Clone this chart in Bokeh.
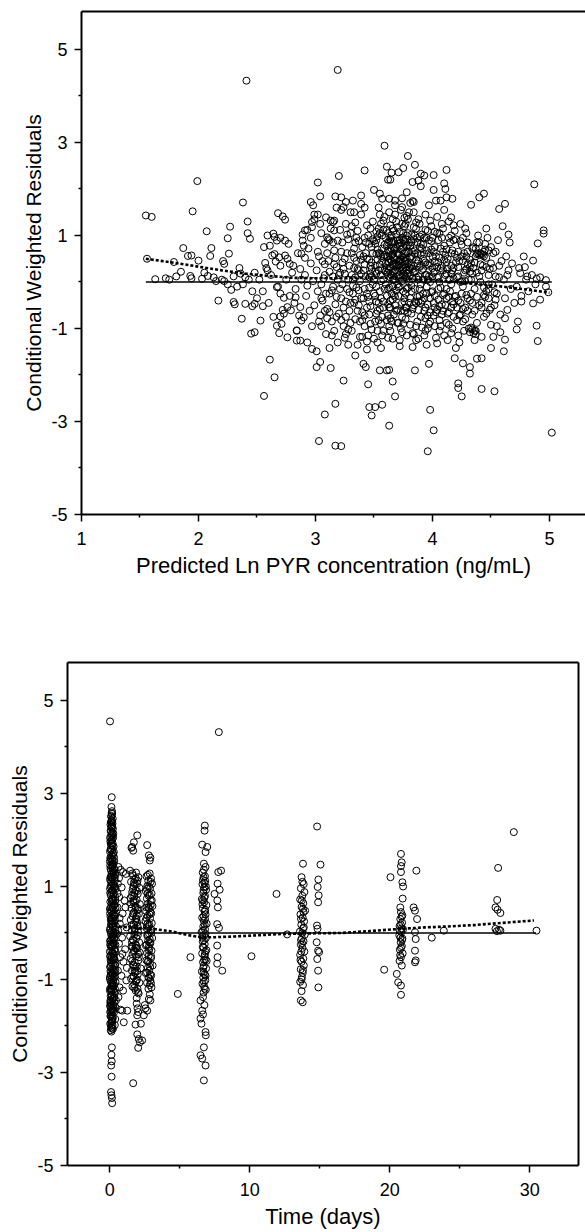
from bokeh.plotting import figure
from bokeh.models import Range1d, FixedTicker, LinearAxis, Spacer
from bokeh.layouts import column, row
from bokeh.embed import file_html
from bokeh.resources import INLINE

FONT = "Liberation Sans"

# ---------------- Top panel: CWRES vs predicted Ln PYR concentration ----------------
pred_sparse = [
    (1.55, 1.43), (1.60, 1.40), (1.99, 2.17), (1.95, 1.52), (1.56, 0.50), (1.63, 0.06), (1.75, 0.05),
    (1.81, 0.12), (1.79, 0.43), (1.87, 0.73), (1.91, 0.56), (1.94, 0.57), (2.00, 0.46), (1.93, 0.13),
    (1.94, 0.08), (2.03, 0.07), (2.08, 0.13), (2.13, 0.10), (2.07, 1.09), (2.11, 0.73), (2.10, 0.56),
    (2.17, -0.40), (2.21, 0.45), (2.22, 0.39), (2.25, 0.94), (2.27, 1.19), (2.26, 0.61), (2.22, 0.02),
    (2.28, -0.17), (2.30, -0.43), (2.31, -0.48), (2.38, 1.71), (2.42, 1.30), (2.42, 1.05), (2.44, 0.93),
    (2.36, 0.18), (2.40, 0.10), (2.38, -0.05), (2.40, -0.47), (2.48, -0.47), (2.46, -0.52), (2.45, -1.11),
    (2.48, -1.08), (2.53, -0.83), (2.55, -0.52), (2.56, -2.45), (2.61, -1.67), (2.65, -2.05), (2.68, 1.48),
    (2.72, 1.41), (2.74, 1.34), (2.59, 1.00), (2.64, 1.04), (2.67, 0.89), (2.61, 0.78), (2.63, 0.57),
    (2.57, 0.41), (2.59, 0.25), (2.74, 0.57), (2.76, 0.50), (2.78, 0.39), (2.74, 0.89), (2.77, 0.82),
    (2.67, -0.11), (2.70, -0.25), (2.73, -0.34), (2.76, -0.54), (2.79, -0.61), (2.73, -0.68), (2.70, -0.74),
    (2.67, -0.94), (2.71, -0.90), (2.69, -1.10), (2.76, -1.19), (2.84, -1.04), (2.84, -1.26), (2.90, -0.76),
    (2.88, -0.83), (2.87, -0.54), (2.83, -0.33), (2.87, -1.26), (2.93, -1.30), (2.97, -1.44), (3.01, -1.49),
    (3.01, -1.83), (3.04, -1.72), (3.13, -1.85), (3.24, -2.12), (3.17, -2.62), (3.08, -2.85), (3.03, -3.42),
    (3.17, -3.52), (3.22, -3.53), (3.02, 2.14), (3.04, 1.84), (3.20, 2.28), (2.96, 1.72), (2.98, 1.65),
    (2.99, 1.45), (2.97, 1.29), (2.91, 1.11), (2.93, 1.12), (2.97, 1.18), (2.89, 0.89), (2.90, 0.78),
    (2.91, 0.52), (2.88, 0.61), (3.17, 1.84), (3.22, 1.82), (3.26, 1.72), (3.24, 1.61), (3.30, 1.50),
    (3.33, 1.50), (3.09, 1.39), (3.13, 1.32), (3.15, 1.29), (3.16, 1.11), (3.10, 0.96), (3.19, 0.89),
    (2.41, 4.33), (3.19, 4.56), (2.37, -0.79), (2.65, 0.97), (2.70, 0.95), (2.69, 0.53), (2.66, 0.44),
    (3.59, 2.93), (3.79, 2.71), (3.61, 2.48), (3.65, 2.35), (3.62, 2.20), (3.64, 2.20), (3.42, 2.40),
    (3.71, 2.36), (3.75, 2.45), (3.85, 2.52), (3.90, 2.33), (3.93, 2.29), (4.01, 2.30), (4.12, 2.41),
    (3.83, 2.15), (3.88, 2.18), (3.90, 2.06), (4.01, 1.98), (4.10, 2.12), (4.11, 2.00), (3.78, 1.93),
    (3.83, 1.74), (3.84, 1.72), (3.50, 1.98), (3.55, 1.90), (3.57, 1.79), (3.39, 1.86), (3.39, 1.68),
    (3.63, 1.79), (3.68, 1.65), (3.74, 1.61), (3.80, 1.50), (3.97, 1.65), (4.03, 1.75), (4.07, 1.75),
    (4.12, 1.82), (4.17, 1.79), (4.10, 1.55), (4.16, 1.39), (4.33, 1.66), (4.40, 1.82), (4.44, 1.90),
    (4.57, 1.57), (4.62, 1.68), (4.87, 2.10), (4.65, 1.02), (4.95, 1.11), (4.95, 1.04), (4.90, 0.83),
    (4.86, 0.46), (4.99, -0.22), (4.76, -0.42), (4.86, -0.46), (4.92, -0.38), (4.97, 0.04), (4.89, 0.07),
    (4.81, 0.12), (4.75, 0.19), (4.79, 0.32), (4.89, -0.94), (4.90, -1.27), (5.02, -3.24), (4.73, -0.85),
    (4.72, -1.02), (4.62, -1.24), (4.61, -1.49), (4.50, -1.42), (4.42, -2.30), (4.53, -2.35), (4.32, -1.97),
    (4.38, -1.65), (4.42, -1.64), (4.22, -2.18), (4.22, -2.28), (4.25, -2.46), (4.19, -1.64), (4.26, -1.75),
    (3.98, -2.75), (4.01, -3.19), (3.96, -3.64), (3.97, -1.76), (3.85, -1.90), (3.68, -2.46), (3.63, -3.09),
    (3.46, -2.69), (3.51, -2.69), (3.48, -2.87), (3.57, -2.64), (3.45, -2.20), (3.66, -2.14), (3.55, -1.90),
    (3.63, -1.89), (3.43, -1.83), (3.41, -1.76), (3.34, -1.58), (3.61, -1.90), (4.32, -1.83),
]

pred_dense = [
    (2.20, 0.05), (2.25, -0.05), (2.30, 0.12), (2.33, -0.10), (2.35, 0.30), (2.43, 0.05), (2.46, -0.20),
    (2.48, 0.20), (2.50, -0.35), (1.72, 0.08), (1.85, 0.22), (2.05, 0.20), (2.15, 0.02),
    (2.52, 0.05), (2.55, -0.20), (2.58, 0.30), (2.60, -0.45), (2.62, 0.15), (2.65, 0.60), (2.68, -0.10),
    (2.70, 0.35), (2.72, -0.60), (2.75, 0.05), (2.78, -0.30), (2.80, 0.20), (2.56, 0.75), (2.64, -0.75),
    (2.81, 0.35), (2.83, -0.15), (2.85, 0.62), (2.86, -0.72), (2.88, 0.05), (2.89, 1.02), (2.82, -0.45),
    (2.87, 0.28), (2.84, -1.05),
    (2.91, 0.15), (2.92, -0.30), (2.94, 0.72), (2.95, -0.62), (2.96, 0.40), (2.97, -0.95), (2.98, 0.02),
    (2.99, 1.35), (2.93, -0.08), (2.96, 0.95), (2.99, -0.50),
    (3.01, 0.25), (3.02, -0.20), (3.03, 0.55), (3.04, -0.72), (3.05, 1.05), (3.06, -0.40), (3.07, 0.08),
    (3.08, 0.82), (3.09, -1.12), (3.02, 1.45), (3.05, -0.05), (3.08, 0.38), (3.10, -0.58),
    (3.11, 0.45), (3.12, -0.25), (3.13, 1.15), (3.14, -0.85), (3.15, 0.12), (3.16, 0.68), (3.17, -0.48),
    (3.18, 1.60), (3.19, -1.30), (3.12, 0.90), (3.15, -0.10), (3.18, 0.32), (3.20, -0.68), (3.16, 1.32),
    (3.21, 0.20), (3.22, -0.35), (3.23, 0.85), (3.24, -0.95), (3.25, 0.50), (3.26, 1.25), (3.27, -0.15),
    (3.28, 0.05), (3.29, -0.62), (3.22, 1.55), (3.25, -1.20), (3.27, 0.62), (3.29, 0.35), (3.23, -0.05),
    (3.26, -0.42), (3.30, 1.05),
    (3.31, 0.15), (3.32, -0.25), (3.33, 0.72), (3.34, -0.80), (3.35, 0.45), (3.36, 1.10), (3.37, -0.50),
    (3.38, 0.02), (3.39, 1.45), (3.31, -1.05), (3.33, 0.30), (3.35, -0.12), (3.37, 0.88), (3.39, -0.35),
    (3.32, 1.75), (3.36, -1.35), (3.38, 0.58), (3.34, 0.10), (3.40, -0.65),
    (3.41, 0.25), (3.42, -0.15), (3.43, 0.62), (3.44, -0.55), (3.45, 1.00), (3.46, 0.10), (3.47, -0.90),
    (3.48, 0.42), (3.49, 1.30), (3.41, -0.35), (3.43, 0.85), (3.45, -1.15), (3.47, 0.18), (3.49, -0.05),
    (3.42, 1.60), (3.44, 0.50), (3.46, -0.70), (3.48, 0.75), (3.50, -0.25), (3.44, -1.45), (3.47, 1.15),
    (3.51, 0.35), (3.52, -0.10), (3.53, 0.70), (3.54, -0.45), (3.55, 1.05), (3.56, 0.15), (3.57, -0.75),
    (3.58, 0.55), (3.59, 1.40), (3.51, -0.30), (3.52, 0.90), (3.53, -1.05), (3.54, 0.25), (3.55, -0.20),
    (3.56, 1.25), (3.57, 0.45), (3.58, -0.55), (3.59, 0.80), (3.60, -0.05), (3.52, 0.60), (3.54, 1.60),
    (3.56, -0.90), (3.58, 0.05), (3.60, 0.40), (3.53, -1.30), (3.57, 1.00), (3.55, 0.62),
    (3.61, 0.30), (3.62, -0.15), (3.63, 0.65), (3.64, -0.40), (3.65, 1.00), (3.66, 0.20), (3.67, -0.70),
    (3.68, 0.50), (3.69, 1.30), (3.61, -0.30), (3.62, 0.85), (3.63, -0.95), (3.64, 0.10), (3.65, -0.25),
    (3.66, 1.15), (3.67, 0.40), (3.68, -0.50), (3.69, 0.75), (3.70, -0.05), (3.61, 0.55), (3.63, 1.50),
    (3.65, -0.85), (3.67, 0.05), (3.69, 0.35), (3.62, -1.20), (3.64, 0.95), (3.66, 0.60), (3.68, 1.75),
    (3.70, -0.60), (3.62, 0.20), (3.64, -0.55), (3.66, -0.10), (3.68, 0.25), (3.70, 0.90), (3.63, 0.42),
    (3.67, 1.10),
    (3.71, 0.35), (3.72, -0.10), (3.73, 0.70), (3.74, -0.45), (3.75, 1.05), (3.76, 0.15), (3.77, -0.80),
    (3.78, 0.50), (3.79, 1.35), (3.71, -0.30), (3.72, 0.90), (3.73, -1.00), (3.74, 0.25), (3.75, -0.20),
    (3.76, 1.20), (3.77, 0.45), (3.78, -0.55), (3.79, 0.80), (3.80, 0.00), (3.71, 0.60), (3.73, 1.55),
    (3.75, -0.90), (3.77, 0.10), (3.79, 0.40), (3.72, -1.25), (3.74, 0.95), (3.76, 0.62), (3.78, -0.15),
    (3.80, 0.25), (3.72, 0.30), (3.76, -0.35), (3.74, 1.80), (3.78, 1.00), (3.73, 0.10), (3.77, -0.55),
    (3.81, 0.30), (3.82, -0.20), (3.83, 0.65), (3.84, -0.50), (3.85, 1.00), (3.86, 0.10), (3.87, -0.85),
    (3.88, 0.45), (3.89, 1.25), (3.81, -0.35), (3.82, 0.85), (3.83, -1.10), (3.84, 0.20), (3.85, -0.15),
    (3.86, 1.15), (3.87, 0.40), (3.88, -0.60), (3.89, 0.75), (3.90, -0.05), (3.82, 0.55), (3.84, 1.50),
    (3.86, -0.95), (3.88, 0.05), (3.90, 0.35), (3.83, -1.40), (3.87, 0.95), (3.85, 0.60), (3.81, 1.70),
    (3.89, -0.30),
    (3.91, 0.25), (3.92, -0.25), (3.93, 0.60), (3.94, -0.55), (3.95, 0.95), (3.96, 0.05), (3.97, -0.90),
    (3.98, 0.40), (3.99, 1.20), (3.91, -0.40), (3.92, 0.80), (3.93, -1.15), (3.94, 0.15), (3.95, -0.10),
    (3.96, 1.10), (3.97, 0.35), (3.98, -0.65), (3.99, 0.70), (4.00, -0.20), (3.92, 0.50), (3.94, 1.45),
    (3.96, -1.00), (3.98, 0.00), (4.00, 0.30), (3.95, -1.35), (3.97, 0.90),
    (4.01, 0.20), (4.02, -0.30), (4.03, 0.55), (4.04, -0.60), (4.05, 0.90), (4.06, 0.00), (4.07, -0.95),
    (4.08, 0.35), (4.09, 1.15), (4.01, -0.45), (4.02, 0.75), (4.03, -1.20), (4.04, 0.10), (4.05, -0.15),
    (4.06, 1.05), (4.07, 0.30), (4.08, -0.70), (4.09, 0.65), (4.10, -0.25), (4.04, 1.40), (4.06, -1.05),
    (4.08, 0.95), (4.02, 0.45),
    (4.11, 0.15), (4.12, -0.35), (4.13, 0.50), (4.14, -0.65), (4.15, 0.85), (4.16, -0.05), (4.17, -1.00),
    (4.18, 0.30), (4.19, 1.10), (4.11, -0.50), (4.12, 0.70), (4.13, -1.25), (4.14, 0.05), (4.15, -0.20),
    (4.16, 1.00), (4.17, 0.25), (4.18, -0.75), (4.19, 0.60), (4.20, -0.30), (4.14, 1.30), (4.16, -1.10),
    (4.18, 0.90),
    (4.21, 0.10), (4.22, -0.40), (4.23, 0.45), (4.24, -0.70), (4.25, 0.80), (4.26, -0.10), (4.27, -1.05),
    (4.28, 0.25), (4.29, 1.05), (4.21, -0.55), (4.22, 0.65), (4.23, -1.30), (4.24, 0.00), (4.25, -0.25),
    (4.26, 0.95), (4.27, 0.20), (4.28, -0.80), (4.29, 0.55), (4.30, -0.35), (4.24, 1.25),
    (4.31, 0.05), (4.32, -0.40), (4.33, 0.40), (4.34, -0.70), (4.35, 0.75), (4.36, -0.15), (4.37, -1.05),
    (4.38, 0.20), (4.39, 1.00), (4.31, -1.00), (4.32, -1.08), (4.34, -1.02), (4.35, -1.10), (4.36, -1.05),
    (4.38, 0.60), (4.39, 0.62), (4.40, 0.58), (4.37, 0.55), (4.33, -0.25), (4.35, 0.30), (4.30, 0.85),
    (4.40, -0.50),
    (4.41, 0.00), (4.42, -0.45), (4.43, 0.35), (4.44, -0.75), (4.45, 0.70), (4.46, -0.20), (4.47, 0.95),
    (4.48, 0.15), (4.49, -0.60), (4.42, 0.60), (4.44, 0.55), (4.46, 1.15), (4.48, -0.35), (4.50, 0.40),
    (4.51, -0.05), (4.52, 0.30), (4.53, -0.50), (4.54, 0.65), (4.55, -0.25), (4.56, 0.90), (4.57, 0.10),
    (4.58, -0.70), (4.59, 0.45), (4.60, 1.20), (4.55, -0.95),
    (4.61, 0.05), (4.62, -0.35), (4.63, 0.55), (4.64, -0.60), (4.65, 0.25), (4.66, 0.85), (4.67, -0.15),
    (4.68, 0.40), (4.70, -0.45), (4.72, -0.10), (4.74, 0.30), (4.76, -0.30), (4.78, 0.55), (4.80, 0.05),
    (4.82, -0.20), (4.85, 0.15), (4.88, -0.05), (4.92, 0.10), (4.97, -0.10),
]

pred_core = [
    (3.31, 0.62), (3.33, -0.45), (3.35, 0.95), (3.36, 0.28), (3.38, -0.85), (3.39, 0.48), (3.32, 0.05),
    (3.34, 1.28), (3.37, -0.18), (3.40, 0.75),
    (3.41, 0.55), (3.42, -0.72), (3.43, 0.12), (3.44, 1.22), (3.45, -0.32), (3.46, 0.82), (3.47, 0.35),
    (3.48, -1.02), (3.49, 0.62), (3.50, 0.05), (3.42, 0.95), (3.46, -0.12),
    (3.51, 0.82), (3.52, 0.18), (3.53, -0.62), (3.54, 1.15), (3.55, 0.38), (3.56, -0.35), (3.57, 0.72),
    (3.58, 1.32), (3.59, -0.15), (3.60, 0.95), (3.51, -0.85), (3.53, 0.48), (3.55, 1.45), (3.57, -1.15),
    (3.59, 0.25), (3.52, 1.08), (3.56, 0.55), (3.58, -0.42),
    (3.61, 0.78), (3.62, 0.42), (3.63, -0.55), (3.64, 1.22), (3.65, 0.15), (3.66, -0.38), (3.67, 0.88),
    (3.68, 1.45), (3.69, -0.18), (3.70, 0.62), (3.61, -0.82), (3.62, 1.05), (3.63, 0.25), (3.64, -1.05),
    (3.65, 0.72), (3.66, 1.35), (3.67, -0.28), (3.68, 0.05), (3.69, 1.02), (3.70, 0.38), (3.62, 0.55),
    (3.65, 0.45), (3.67, 0.68), (3.69, -0.62), (3.64, 0.32), (3.66, 0.85),
    (3.71, 0.82), (3.72, 0.45), (3.73, -0.62), (3.74, 1.25), (3.75, 0.18), (3.76, -0.42), (3.77, 0.92),
    (3.78, 1.42), (3.79, -0.12), (3.80, 0.65), (3.71, -0.88), (3.72, 1.08), (3.73, 0.32), (3.74, -1.08),
    (3.75, 0.75), (3.76, 1.38), (3.77, -0.25), (3.78, 0.08), (3.79, 1.05), (3.80, 0.42), (3.72, 0.58),
    (3.75, 0.52), (3.77, 0.65), (3.79, -0.65), (3.74, 0.35), (3.76, 0.88),
    (3.81, 0.78), (3.82, 0.35), (3.83, -0.58), (3.84, 1.18), (3.85, 0.22), (3.86, -0.45), (3.87, 0.85),
    (3.88, 1.35), (3.89, -0.15), (3.90, 0.58), (3.81, -0.92), (3.82, 1.02), (3.83, 0.28), (3.84, -1.12),
    (3.85, 0.68), (3.86, 1.28), (3.87, -0.32), (3.88, 0.12), (3.89, 0.98), (3.90, -0.75),
    (3.91, 0.72), (3.92, 0.28), (3.93, -0.62), (3.94, 1.12), (3.95, 0.15), (3.96, -0.48), (3.97, 0.62),
    (3.98, 1.32), (3.99, -0.22), (4.00, 0.55), (3.91, -0.98), (3.93, 0.95), (3.95, -0.25), (3.97, 0.12),
    (3.99, 0.88), (3.94, -0.78),
    (4.01, 0.65), (4.02, 0.22), (4.03, -0.65), (4.04, 1.05), (4.05, 0.12), (4.06, -0.52), (4.07, 0.72),
    (4.08, 1.25), (4.09, -0.28), (4.10, 0.48), (4.02, -0.95), (4.05, 0.42), (4.07, -0.12), (4.09, 0.25),
    (4.11, 0.58), (4.12, 0.18), (4.13, -0.68), (4.14, 0.95), (4.15, 0.05), (4.16, -0.55), (4.17, 0.68),
    (4.18, 1.22), (4.19, -0.32), (4.20, 0.42), (4.12, -0.88), (4.16, 0.35),
    (4.21, 0.52), (4.22, 0.12), (4.23, -0.72), (4.24, 0.88), (4.25, 0.02), (4.26, -0.58), (4.27, 0.62),
    (4.28, 1.15), (4.29, -0.28), (4.30, 0.38),
    (4.32, 0.48), (4.34, 0.18), (4.36, -0.62), (4.38, 0.85), (4.40, 0.12), (4.42, -0.55), (4.44, 0.65),
    (4.46, 0.32), (4.48, -0.15), (4.50, 0.75), (4.33, -0.98), (4.37, -1.12), (4.41, 0.62), (4.43, 0.58),
    (4.45, -0.32),
    (3.02, 0.65), (3.05, -0.35), (3.08, 0.15), (3.11, 0.92), (3.14, -0.18), (3.17, 0.52), (3.20, 0.15),
    (3.23, 0.42), (3.26, -0.75), (3.28, 0.92), (3.12, -0.65), (3.21, 1.12), (3.25, 0.18), (3.29, -0.22),
]

pred_core_more = [
    (3.46, 0.48), (3.48, 0.12), (3.50, 0.88), (3.52, -0.42), (3.54, 0.62), (3.56, 0.02), (3.58, 1.12),
    (3.60, 0.22), (3.62, -0.72), (3.64, 0.68), (3.66, 0.38), (3.68, -0.32), (3.70, 1.18), (3.72, 0.15),
    (3.74, 0.55), (3.76, -0.62), (3.78, 0.78), (3.80, 0.32), (3.82, -0.08), (3.84, 0.92), (3.86, 0.48),
    (3.88, -0.42), (3.90, 0.82), (3.92, 0.05), (3.94, 0.42),
    (3.47, -0.52), (3.49, 0.92), (3.51, 0.22), (3.53, 0.98), (3.55, -0.58), (3.57, 0.28), (3.59, 0.58),
    (3.61, 1.12), (3.63, -0.12), (3.65, 0.88), (3.67, 0.22), (3.69, 0.48), (3.71, -0.12), (3.73, 0.85),
    (3.75, 0.28), (3.77, 1.25), (3.79, 0.18), (3.81, 0.52), (3.83, 0.08), (3.85, -0.42), (3.87, 0.62),
    (3.89, 0.32), (3.91, 1.02), (3.93, -0.35), (3.95, 0.68),
    (3.62, 0.68), (3.64, 0.48), (3.66, 0.05), (3.68, 0.72), (3.70, 0.22), (3.72, 0.78), (3.74, 0.02),
    (3.76, 0.45), (3.78, 0.25), (3.80, 0.85), (3.63, 0.88), (3.67, 0.52), (3.71, 0.45), (3.75, 0.92),
    (3.79, 0.62), (3.73, 0.48), (3.77, 0.32), (3.69, 0.12), (3.65, 0.58), (3.81, 0.15),
    (3.03, -0.85), (3.06, 0.45), (3.09, -0.25), (3.12, 0.22), (3.15, 0.85), (3.18, -0.75), (3.21, -0.15),
    (3.24, 0.28), (3.27, 1.02), (3.30, -0.45), (3.33, 0.52), (3.36, -0.62), (3.39, 0.18), (3.42, 0.38),
    (3.44, -0.25), (3.04, 1.25), (3.10, 0.62), (3.16, -1.05), (3.22, 0.65), (3.28, -1.02), (3.34, 0.85),
    (3.40, -1.18), (3.19, 0.05), (3.31, 1.20), (3.37, 0.25),
    (3.96, 0.38), (3.98, -0.85), (4.00, 0.95), (4.02, 1.08), (4.04, 0.32), (4.06, 0.52), (4.08, -0.48),
    (4.10, 0.78), (4.12, 0.42), (4.14, -0.32), (4.16, 0.62), (4.18, 0.08), (4.20, 0.92), (4.22, 0.32),
    (4.24, -0.45), (4.26, 0.45), (4.28, 0.02), (4.30, 0.65), (4.32, 0.22), (4.34, 0.72), (4.36, 0.42),
    (4.38, -0.32), (4.40, 0.85), (4.42, 0.25), (4.44, -0.12), (4.46, 0.52), (4.48, 0.68), (4.50, -0.55),
    (4.52, 0.62), (4.54, 0.12),
    (4.01, -0.72), (4.05, -0.38), (4.09, -0.62), (4.13, 0.28), (4.17, -0.42), (4.21, -0.82), (4.25, 0.55),
    (4.29, 0.28), (4.33, 0.05), (4.37, 0.72), (4.41, 0.38), (4.45, 0.82), (4.49, 0.28), (4.53, -0.22),
    (4.57, 0.35),
]

pred_lower_band = [
    (3.05, -0.95), (3.10, -0.78), (3.14, -1.15), (3.18, -0.32), (3.22, -0.82), (3.26, -1.12), (3.30, -0.88),
    (3.34, -0.38), (3.38, -1.18), (3.42, -0.95), (3.46, -0.42), (3.50, -1.22), (3.54, -0.82), (3.58, -1.05),
    (3.62, -0.48), (3.66, -1.22), (3.70, -0.88), (3.74, -0.75), (3.78, -1.15), (3.82, -0.68), (3.86, -1.25),
    (3.90, -0.45), (3.94, -1.05), (3.98, -0.35), (4.02, -0.55), (4.06, -0.82), (4.10, -1.15), (4.14, -0.92),
    (4.18, -0.48), (4.22, -1.15), (4.26, -0.85), (4.30, -0.62), (4.34, -0.45), (4.38, -0.88), (4.42, -1.18),
    (4.46, -0.68), (4.50, -0.92), (4.54, -0.38), (4.58, -1.08), (4.62, -0.78),
    (3.12, -1.42), (3.28, -1.35), (3.44, -1.28), (3.56, -1.42), (3.72, -1.38), (3.88, -1.22), (4.04, -1.32),
    (4.20, -1.42), (4.36, -1.25), (4.52, -1.18),
    (3.08, -0.62), (3.24, -0.55), (3.40, -0.82), (3.52, -0.68), (3.64, -0.78), (3.80, -0.45), (3.96, -0.72),
    (4.12, -0.15), (4.28, -0.55), (4.44, -0.28),
    (3.16, 0.38), (3.32, -0.08), (3.48, 0.28), (4.00, 0.12), (4.16, 0.18), (4.32, 0.32), (4.48, -0.05),
    (4.64, 0.15),
]

pred_ref_x = [1.55, 5.02]
pred_ref_y = [0.0, 0.0]
pred_smooth_x = [1.55, 1.8, 2.0, 2.2, 2.4, 2.6, 2.8, 3.0, 3.2, 3.4, 3.6, 3.8, 4.0, 4.2, 4.4, 4.6, 4.8, 5.0]
pred_smooth_y = [0.50, 0.41, 0.33, 0.25, 0.18, 0.13, 0.09, 0.08, 0.08, 0.09, 0.09, 0.07, 0.03, 0.00,
                 -0.05, -0.10, -0.16, -0.23]

# ---------------- Bottom panel: CWRES vs time ----------------
time_first_day = [
    (0.02, 4.55), (0.14, 2.92), (0.12, 2.71), (0.17, 2.56), (0.10, 2.50), (0.21, 2.46), (0.13, 2.42),
    (0.08, 2.38), (0.19, 2.35), (0.15, 2.31), (0.11, 2.27), (0.22, 2.24), (0.06, 2.20), (0.18, 2.16),
    (0.13, 2.12), (0.09, 2.08), (0.24, 2.05), (0.16, 2.01), (0.04, 1.97), (0.20, 1.93), (0.12, 1.89),
    (0.27, 1.86), (0.08, 1.82), (0.17, 1.78), (0.02, 1.75), (0.23, 1.71), (0.14, 1.67), (0.30, 1.63),
    (0.07, 1.60), (0.19, 1.56), (0.11, 1.52), (0.26, 1.49), (0.03, 1.45), (0.16, 1.41), (0.33, 1.38),
    (0.09, 1.34), (0.21, 1.30), (0.13, 1.27), (0.28, 1.23), (0.05, 1.20), (0.18, 1.16), (0.36, 1.12),
    (0.10, 1.09), (0.24, 1.05), (0.15, 1.02), (0.31, 0.98), (0.02, 0.95), (0.20, 0.91), (0.12, 0.88),
    (0.27, 0.84), (0.07, 0.81), (0.38, 0.77), (0.17, 0.74), (0.23, 0.70), (0.04, 0.67), (0.14, 0.63),
    (0.33, 0.60), (0.09, 0.56), (0.21, 0.53), (0.29, 0.49), (0.12, 0.46), (0.02, 0.42), (0.18, 0.39),
    (0.36, 0.35), (0.25, 0.32), (0.07, 0.28), (0.15, 0.25), (0.31, 0.21), (0.11, 0.18), (0.22, 0.14),
    (0.04, 0.11), (0.39, 0.07), (0.17, 0.04), (0.27, 0.00), (0.09, -0.03), (0.20, -0.07), (0.34, -0.10),
    (0.13, -0.14), (0.02, -0.17), (0.24, -0.21), (0.30, -0.24), (0.07, -0.28), (0.16, -0.31), (0.37, -0.35),
    (0.11, -0.38), (0.21, -0.42), (0.28, -0.45), (0.04, -0.49), (0.14, -0.52), (0.33, -0.56), (0.19, -0.59),
    (0.09, -0.63), (0.25, -0.66), (0.38, -0.70), (0.02, -0.73), (0.15, -0.77), (0.30, -0.80), (0.11, -0.84),
    (0.22, -0.87), (0.06, -0.91), (0.35, -0.94), (0.17, -0.98), (0.27, -1.01), (0.08, -1.05), (0.13, -1.08),
    (0.32, -1.12), (0.20, -1.15), (0.03, -1.19), (0.24, -1.22), (0.12, -1.26), (0.37, -1.29), (0.16, -1.33),
    (0.06, -1.36), (0.28, -1.40), (0.21, -1.43), (0.10, -1.47), (0.33, -1.50), (0.15, -1.54), (0.02, -1.57),
    (0.25, -1.61), (0.18, -1.64), (0.09, -1.68), (0.30, -1.71), (0.13, -1.75), (0.05, -1.79), (0.22, -1.83),
    (0.16, -1.88), (0.10, -1.93), (0.19, -1.98), (0.12, -2.03), (0.07, -2.09), (0.15, -2.46), (0.12, -2.62),
    (0.14, -2.76), (0.10, -2.85), (0.13, -3.09), (0.09, -3.42), (0.12, -3.49), (0.15, -3.55), (0.17, -3.66),
    (0.05, 2.33), (0.25, 2.14), (0.07, 1.92), (0.29, 1.74), (0.01, 1.54), (0.23, 1.35), (0.35, 1.18),
    (0.06, 1.00), (0.28, 0.86), (0.17, 0.69), (0.01, 0.52), (0.34, 0.37), (0.19, 0.20), (0.08, 0.02),
    (0.30, -0.12), (0.18, -0.26), (0.01, -0.40), (0.26, -0.54), (0.36, -0.68), (0.05, -0.82), (0.28, -0.96),
    (0.19, -1.10), (0.01, -1.24), (0.32, -1.38), (0.07, -1.52), (0.27, -1.66), (0.18, -1.80), (0.03, -1.95),
    (0.23, -2.06), (0.40, 1.25), (0.42, 0.95), (0.41, 0.55), (0.43, 0.15), (0.40, -0.25), (0.42, -0.65),
    (0.41, -1.05), (0.44, -1.45), (0.39, -1.85), (0.20, 1.44), (0.10, 1.21), (0.16, 0.92), (0.22, 0.58),
    (0.14, 0.31), (0.23, -0.16), (0.06, -0.58), (0.20, -0.89), (0.14, -1.21), (0.09, -1.58),
    (0.11, 2.52), (0.17, 2.40), (0.14, 2.29), (0.09, 2.18), (0.20, 2.10), (0.12, 1.99), (0.18, 1.87),
    (0.06, 1.79), (0.24, 1.68), (0.13, 1.58), (0.21, 1.47), (0.05, 1.39), (0.28, 1.29), (0.15, 1.19),
    (0.10, 1.11), (0.31, 1.03), (0.19, 0.93), (0.03, 0.86), (0.25, 0.79), (0.12, 0.71), (0.34, 0.62),
    (0.18, 0.55), (0.07, 0.48), (0.27, 0.40), (0.15, 0.33), (0.37, 0.27), (0.10, 0.20), (0.22, 0.12),
    (0.01, 0.06), (0.30, -0.01), (0.16, -0.08), (0.06, -0.16), (0.26, -0.22), (0.12, -0.30), (0.33, -0.37),
    (0.20, -0.44), (0.03, -0.51), (0.29, -0.57), (0.15, -0.65), (0.08, -0.71), (0.23, -0.79), (0.35, -0.86),
    (0.12, -0.92), (0.01, -0.99), (0.25, -1.06), (0.18, -1.13), (0.06, -1.21), (0.30, -1.27), (0.14, -1.35),
    (0.22, -1.41), (0.04, -1.49), (0.28, -1.55), (0.11, -1.63), (0.20, -1.69), (0.07, -1.77), (0.16, -1.85),
    (0.13, -1.90), (0.09, -2.00), (0.17, -2.06), (0.12, -2.12),
    (0.32, 1.55), (0.36, 1.35), (0.38, 1.00), (0.40, 0.70), (0.39, 0.40), (0.41, 0.00), (0.38, -0.40),
    (0.40, -0.80), (0.37, -1.20), (0.41, -1.60), (0.36, -1.98),
    (0.02, 2.05), (0.04, 1.62), (0.02, 1.15), (0.05, 0.35), (0.03, -0.25), (0.02, -0.95), (0.05, -1.45),
    (0.03, -1.70), (0.16, 2.62), (0.13, 2.58), (0.11, 2.38), (0.18, 2.28),
]

time_days_1_3 = [
    (0.62, 1.42), (0.78, 1.36), (0.95, 1.31), (1.15, 1.27), (0.58, 1.06), (0.85, 0.98), (0.68, 0.77),
    (1.05, 0.70), (0.55, 0.55), (0.92, 0.42), (0.72, 0.20), (1.20, 0.12), (0.60, 0.05), (0.88, -0.10),
    (0.66, -0.23), (1.10, -0.35), (0.75, -0.52), (0.98, -0.62), (0.58, -0.81), (0.83, -0.92), (1.18, -1.02),
    (0.70, -1.17), (0.95, -1.24), (0.62, -1.38), (0.77, -1.65), (0.88, -1.67), (1.00, -1.92), (1.25, -1.67),
    (0.52, -0.02), (0.55, 0.85), (0.70, 0.32), (1.12, 0.55), (0.90, -0.45), (1.22, -0.75), (0.66, 1.18),
    (1.96, 2.10), (1.72, 1.95), (1.60, 1.85), (1.67, 1.77), (1.55, 1.83),
    (1.45, 1.34), (1.88, 1.30), (1.65, 1.24), (2.05, 1.20), (1.78, 1.15), (1.52, 1.10), (1.95, 1.06),
    (1.70, 1.01), (2.12, 0.97), (1.85, 0.92), (1.60, 0.88), (2.00, 0.84), (1.75, 0.79), (1.48, 0.75),
    (1.92, 0.71), (1.68, 0.66), (2.15, 0.62), (1.82, 0.58), (1.55, 0.53), (1.98, 0.49), (1.73, 0.45),
    (2.08, 0.41), (1.62, 0.36), (1.88, 0.32), (1.50, 0.28), (1.95, 0.23), (1.70, 0.19), (2.18, 0.15),
    (1.80, 0.10), (1.58, 0.06), (2.02, 0.02), (1.76, -0.03), (1.45, -0.07), (1.90, -0.11), (1.66, -0.16),
    (2.10, -0.20), (1.84, -0.24), (1.56, -0.29), (1.97, -0.33), (1.72, -0.37), (2.14, -0.42), (1.62, -0.46),
    (1.88, -0.50), (1.50, -0.55), (2.04, -0.59), (1.78, -0.63), (1.66, -0.68), (1.93, -0.72), (2.20, -0.76),
    (1.58, -0.81), (1.82, -0.85), (2.00, -0.89), (1.70, -0.94), (1.52, -0.98), (1.90, -1.02), (2.12, -1.07),
    (1.75, -1.11), (1.62, -1.15), (1.98, -1.20), (1.85, -1.24), (2.06, -1.30),
    (1.92, -1.52), (1.98, -1.62), (2.03, -1.70), (1.96, -1.77), (1.84, -1.97), (1.96, -2.18), (2.07, -2.28),
    (2.31, -2.31), (2.03, -2.47), (1.67, -3.23), (2.22, -1.95), (2.15, -2.35),
    (1.80, 1.05), (1.68, 0.70), (1.93, 0.38), (1.77, 0.02), (1.88, -0.32), (1.70, -0.70), (1.95, -1.00),
    (1.64, 0.95), (1.86, 0.55), (1.58, -0.20), (2.02, -0.45), (1.82, 0.25),
    (1.62, 1.28), (1.85, 1.18), (1.72, 1.08), (1.95, 0.90), (1.58, 0.80), (1.80, 0.68), (2.05, 0.52),
    (1.68, 0.42), (1.90, 0.30), (1.55, 0.17), (1.78, 0.08), (2.00, -0.05), (1.65, -0.14), (1.88, -0.27),
    (1.72, -0.40), (2.08, -0.52), (1.60, -0.60), (1.82, -0.73), (1.95, -0.82), (1.68, -0.92), (1.86, -1.05),
    (1.75, -1.18), (2.02, -1.27), (1.92, -1.40), (1.98, 1.12), (1.76, 0.86), (1.52, 0.62), (1.98, 0.15),
    (1.62, -0.30), (1.78, -0.82),
    (2.67, 1.89), (2.79, 1.67), (2.90, 1.62), (2.86, 1.56),
    (2.85, 1.28), (2.62, 1.22), (2.95, 1.17), (2.75, 1.12), (3.02, 1.06), (2.68, 1.01), (2.88, 0.96),
    (2.58, 0.90), (2.98, 0.85), (2.78, 0.80), (2.65, 0.74), (2.92, 0.69), (2.72, 0.63), (3.05, 0.58),
    (2.82, 0.53), (2.60, 0.47), (2.96, 0.42), (2.70, 0.37), (2.88, 0.31), (2.55, 0.26), (3.00, 0.21),
    (2.76, 0.15), (2.64, 0.10), (2.93, 0.05), (2.80, -0.01), (2.68, -0.06), (3.03, -0.11), (2.74, -0.17),
    (2.90, -0.22), (2.58, -0.27), (2.84, -0.33), (2.98, -0.38), (2.66, -0.43), (2.78, -0.49), (2.94, -0.54),
    (2.62, -0.59), (2.87, -0.65), (3.06, -0.70), (2.72, -0.75), (2.82, -0.81), (2.56, -0.86), (2.96, -0.91),
    (2.76, -0.96), (2.90, -1.02), (2.66, -1.07), (2.85, -1.12), (2.98, -1.17),
    (2.79, -1.42), (2.90, -1.45), (2.55, -1.62), (2.43, -1.77), (2.67, -1.67), (2.50, -1.55),
    (2.80, 1.00), (2.92, 0.60), (2.70, 0.20), (2.86, -0.20), (2.74, -0.60), (2.88, -0.90), (2.62, 0.55),
    (2.97, 0.00),
    (2.72, 1.25), (2.92, 1.10), (2.65, 0.95), (2.85, 0.82), (3.00, 0.70), (2.75, 0.55), (2.90, 0.45),
    (2.62, 0.32), (2.82, 0.18), (2.96, 0.08), (2.70, -0.03), (2.86, -0.14), (2.64, -0.25), (2.80, -0.38),
    (2.95, -0.50), (2.72, -0.62), (2.88, -0.73), (2.66, -0.85), (2.82, -0.97), (2.94, -1.08), (2.76, -1.20),
    (2.86, -1.32), (2.70, 0.85), (2.84, 0.40), (2.78, -0.30),
]

time_later = [
    (4.86, -1.31), (5.76, -0.52),
    (6.79, 2.31), (6.77, 2.20), (6.60, 1.90), (6.96, 1.85), (6.84, 1.74), (6.72, 1.49), (6.84, 1.42),
    (6.70, 1.20), (6.82, 1.12), (6.62, 1.05), (6.75, 0.98), (6.88, 0.93), (6.68, 0.86), (6.80, 0.80),
    (6.58, 0.73), (6.74, 0.66), (6.90, 0.60), (6.65, 0.53), (6.78, 0.46), (6.84, 0.40), (6.60, 0.33),
    (6.72, 0.26), (6.92, 0.20), (6.68, 0.14), (6.80, 0.08), (6.56, 0.02), (6.74, -0.05), (6.86, -0.11),
    (6.64, -0.18), (6.78, -0.24), (6.70, -0.31), (6.90, -0.37), (6.60, -0.44), (6.76, -0.50), (6.84, -0.57),
    (6.66, -0.63), (6.72, -0.70), (6.88, -0.76), (6.58, -0.83), (6.78, -0.89), (6.68, -0.96), (6.82, -1.02),
    (6.62, -1.09), (6.74, -1.15), (6.86, -1.22), (6.70, -1.28),
    (6.48, -1.45), (6.60, -1.67), (6.48, -1.84), (6.66, -1.75), (6.84, -2.13), (6.86, -2.20), (6.72, -2.46),
    (6.48, -2.63), (6.60, -2.70), (6.84, -2.85), (6.72, -3.17), (6.55, -1.95),
    (6.76, 1.08), (6.66, 0.70), (6.80, 0.30), (6.62, -0.08), (6.82, -0.40), (6.70, -0.85), (6.64, 1.30),
    (6.92, -0.60),
    (6.72, 1.36), (6.80, 1.22), (6.66, 1.14), (6.86, 1.00), (6.70, 0.92), (6.76, 0.76), (6.62, 0.62),
    (6.82, 0.50), (6.70, 0.36), (6.78, 0.18), (6.66, 0.05), (6.84, -0.02), (6.72, -0.15), (6.64, -0.30),
    (6.80, -0.46), (6.74, -0.58), (6.68, -0.75), (6.84, -0.92), (6.72, -1.05), (6.78, -1.20), (6.66, -1.38),
    (6.76, -1.55),
    (7.79, 4.32), (7.75, 1.31), (7.95, 1.34), (7.70, 1.06), (7.85, 0.93), (7.68, 0.70), (7.72, 0.55),
    (7.67, 0.19), (7.80, 0.11), (7.67, -0.27), (7.70, -0.52), (7.67, -0.66), (8.03, -0.81), (7.48, 0.84),
    (10.12, -0.50), (11.91, 0.84), (12.67, -0.03),
    (13.80, 1.49), (13.70, 1.20), (13.85, 1.05), (13.65, 0.96), (13.90, 0.88), (13.75, 0.80), (13.60, 0.72),
    (13.82, 0.64), (13.70, 0.56), (13.95, 0.48), (13.62, 0.40), (13.78, 0.33), (13.88, 0.25), (13.68, 0.18),
    (13.80, 0.10), (13.58, 0.03), (13.92, -0.04), (13.72, -0.11), (13.84, -0.18), (13.65, -0.25),
    (13.76, -0.32), (13.90, -0.40), (13.60, -0.47), (13.82, -0.55), (13.70, -0.62), (13.86, -0.70),
    (13.64, -0.78), (13.78, -0.86), (13.72, -0.95), (13.60, -1.05), (13.80, -1.12), (13.70, -1.25),
    (13.65, -1.45), (13.78, -1.49), (13.75, 0.00), (13.68, -0.40), (13.84, 0.45),
    (13.72, 0.70), (13.80, 0.52), (13.66, 0.30), (13.86, 0.12), (13.74, -0.22), (13.62, -0.58),
    (13.80, -0.80), (13.70, -1.00), (13.76, 1.10), (13.66, -0.15),
    (14.81, 2.29), (15.05, 1.47), (14.90, 1.15), (14.85, 0.99), (14.92, 0.81), (14.88, 0.66), (14.80, 0.16),
    (14.84, 0.09), (14.78, -0.20), (14.88, -0.38), (14.95, -0.41), (14.82, -0.56), (14.88, -0.81),
    (14.90, -1.17),
    (19.60, -0.79), (20.05, 1.20),
    (20.80, 1.70), (20.85, 1.52), (20.80, 1.44), (20.80, 1.31), (20.90, 1.09), (20.95, 1.00), (20.92, 0.74),
    (20.80, 0.45), (20.90, 0.38), (20.75, 0.30), (20.88, 0.22), (20.70, 0.15), (20.95, 0.08), (20.82, 0.02),
    (20.68, -0.05), (20.90, -0.12), (20.78, -0.20), (20.86, -0.28), (20.72, -0.36), (20.92, -0.44),
    (20.80, -0.52), (20.70, -0.60), (20.50, -0.88), (20.60, -1.06), (20.80, -1.13), (20.80, -1.33),
    (20.84, 0.10), (20.76, -0.10),
    (20.75, 0.55), (20.85, 0.35), (20.72, 0.05), (20.88, -0.15), (20.80, -0.32), (20.74, -0.48),
    (20.86, -0.70), (20.78, 0.18),
    (21.90, 1.34), (21.70, 0.55), (21.80, 0.48), (21.95, 0.30), (21.80, 0.02), (21.85, -0.13), (21.80, -0.38),
    (21.85, -0.59), (21.80, -0.63),
    (23.00, -0.10), (23.86, 0.05),
    (27.74, 1.40), (27.67, 0.71), (27.55, 0.55), (27.70, 0.50), (27.90, 0.43), (27.55, 0.09), (27.80, 0.07),
    (27.90, 0.05), (27.65, 0.04), (28.86, 2.17), (30.48, 0.05),
]

time_ref_x = [0.0, 30.45]
time_ref_y = [0.0, 0.0]
time_smooth_x = [0.3, 1.5, 2.5, 3.3, 4.5, 5.5, 6.5, 7.5, 8.9, 10.5, 12.4, 14.0, 16.5, 18.5, 20.8, 22.5,
                 24.1, 26.0, 27.7, 29.0, 30.3]
time_smooth_y = [0.15, 0.12, 0.10, 0.08, 0.03, -0.04, -0.09, -0.09, -0.075, -0.05, -0.02, -0.01, 0.00,
                 0.04, 0.09, 0.12, 0.14, 0.17, 0.21, 0.24, 0.27]

y_major = [-5, -3, -1, 1, 3, 5]
y_minor = [-4, -2, 0, 2, 4]
y_labels = {-5: "-5", -3: "-3", -1: "-1", 1: "1", 3: "3", 5: "5"}
pred_major = [1, 2, 3, 4, 5]
pred_minor = [1.5, 2.5, 3.5, 4.5]
time_major = [0, 10, 20, 30]
time_minor = [5, 15, 25]


def style_axis(ax, ticks, minor, label, label_size, tick_standoff, label_standoff):
    ax.ticker = FixedTicker(ticks=ticks, minor_ticks=minor)
    ax.axis_label = label
    ax.axis_line_color = "black"
    ax.axis_line_width = 2
    ax.major_tick_line_color = "black"
    ax.major_tick_line_width = 1.5
    ax.major_tick_out = 7
    ax.major_tick_in = 0
    ax.minor_tick_line_color = "black"
    ax.minor_tick_line_width = 1.5
    ax.minor_tick_out = 3
    ax.minor_tick_in = 0
    ax.major_label_text_font = FONT
    ax.major_label_text_font_size = "18px"
    ax.major_label_text_color = "black"
    ax.major_label_standoff = tick_standoff
    ax.axis_label_text_font = FONT
    ax.axis_label_text_font_size = label_size
    ax.axis_label_text_font_style = "normal"
    ax.axis_label_text_color = "black"
    ax.axis_label_standoff = label_standoff


def border_axis(p, side):
    ax = LinearAxis(ticker=FixedTicker(ticks=[]), axis_line_color="black", axis_line_width=2,
                    major_tick_line_color=None, minor_tick_line_color=None,
                    major_label_text_font_size="0px", major_tick_out=0, minor_tick_out=0,
                    major_label_standoff=0)
    p.add_layout(ax, side)


def make_fig(x_range, frame_w, left, right, top, bottom):
    p = figure(frame_width=frame_w, frame_height=503, x_range=x_range, y_range=Range1d(-5, 5.817),
               output_backend="svg", toolbar_location=None,
               min_border_left=left, min_border_right=right, min_border_top=top, min_border_bottom=bottom)
    p.xgrid.visible = False
    p.ygrid.visible = False
    p.outline_line_color = None
    p.background_fill_color = "white"
    p.border_fill_color = "white"
    return p


def draw_points(p, pts):
    p.scatter([q[0] for q in pts], [q[1] for q in pts], marker="circle", size=7,
              fill_color=None, line_color="black", line_width=1)


# Top figure
p1 = make_fig(Range1d(1.0, 5.308), 504, 67, 0, 11, 86)
style_axis(p1.xaxis[0], pred_major, pred_minor, "Predicted Ln PYR concentration (ng/mL)", "22px", 10, 5)
style_axis(p1.yaxis[0], y_major, y_minor, "Conditional Weighted Residuals", "21px", 7, 3)
p1.yaxis[0].major_label_overrides = y_labels
border_axis(p1, "above")
draw_points(p1, pred_sparse + pred_dense + pred_core + pred_core_more + pred_lower_band)
p1.line(pred_ref_x, pred_ref_y, line_color="black", line_width=1.6)
p1.line(pred_smooth_x, pred_smooth_y, line_color="black", line_width=2.6, line_dash="3 2")

# Bottom figure
p2 = make_fig(Range1d(-3.02, 33.48), 511, 67, 7, 62, 67)
style_axis(p2.xaxis[0], time_major, time_minor, "Time (days)", "22px", 10, 5)
style_axis(p2.yaxis[0], y_major, y_minor, "Conditional Weighted Residuals", "21px", 7, 3)
p2.yaxis[0].major_label_overrides = y_labels
border_axis(p2, "above")
border_axis(p2, "right")
draw_points(p2, time_first_day + time_days_1_3 + time_later)
p2.line(time_ref_x, time_ref_y, line_color="black", line_width=1.6)
p2.line(time_smooth_x, time_smooth_y, line_color="black", line_width=2.6, line_dash="3 2")

top_row = row(Spacer(width=14, height=600), p1, spacing=0)
layout = column(top_row, p2, spacing=0)
open("out.html", "w").write(file_html(layout, INLINE))
